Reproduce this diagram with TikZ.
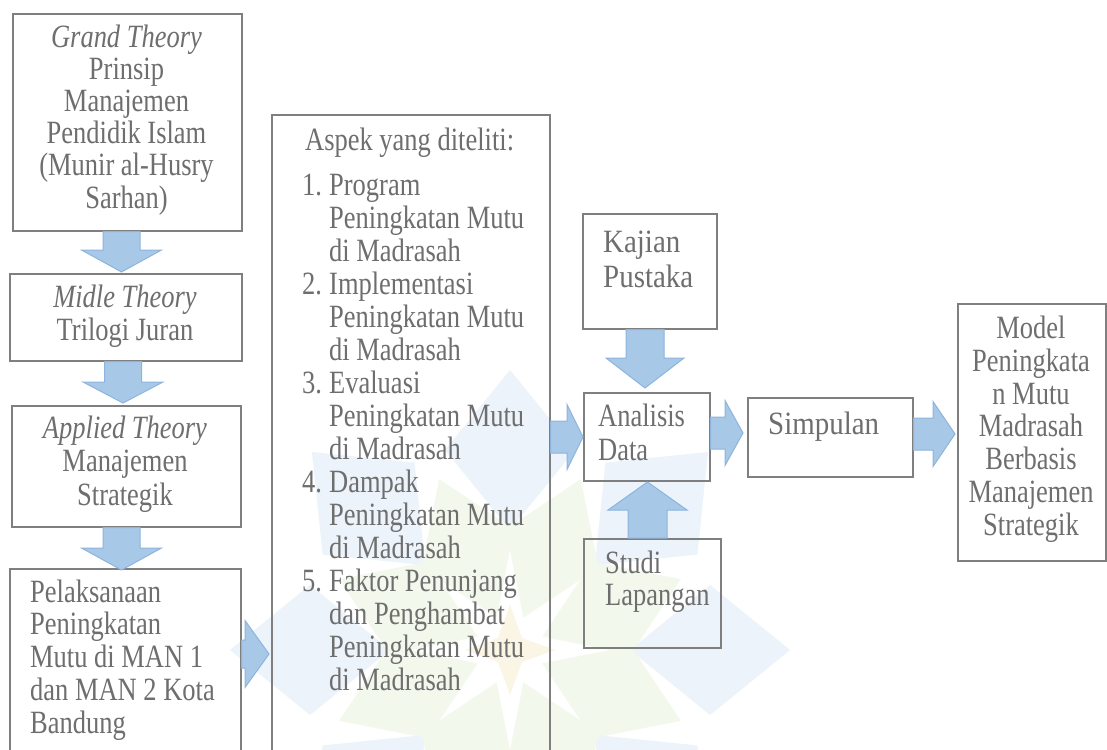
\documentclass[tikz,border=0pt]{standalone}
\usepackage{fontspec}
\setmainfont{Liberation Serif}[FakeStretch=0.815]
\newfontfamily\widerfont{Liberation Serif}[FakeStretch=0.89]
\usetikzlibrary{calc}
\definecolor{boxline}{HTML}{7F7F7F}
\definecolor{txtc}{HTML}{6E6E6E}
\definecolor{arrfill}{HTML}{A8C8E8}
\definecolor{arrline}{HTML}{8EB4DC}
\definecolor{wmblue}{HTML}{ECF3FA}
\definecolor{wmgreen}{HTML}{F3F8ED}
\definecolor{wmyellow}{HTML}{FBF5E6}
\newcommand\arrDown[5]{\draw[blk] let \p1=(#1), \p2=(#2) in
  (\x2-#3,\y1) -- (\x2+#3,\y1) -- (\x2+#3,\y2+#5) -- (\x2+#4,\y2+#5) -- (\x2,\y2)
  -- (\x2-#4,\y2+#5) -- (\x2-#3,\y2+#5) -- cycle;}
\newcommand\arrUp[5]{\draw[blk] let \p1=(#1), \p2=(#2) in
  (\x2-#3,\y1) -- (\x2+#3,\y1) -- (\x2+#3,\y2-#5) -- (\x2+#4,\y2-#5) -- (\x2,\y2)
  -- (\x2-#4,\y2-#5) -- (\x2-#3,\y2-#5) -- cycle;}
\newcommand\arrRight[5]{\draw[blk] let \p1=(#1), \p2=(#2) in
  (\x1,\y2+#3) -- (\x2-#5,\y2+#3) -- (\x2-#5,\y2+#4) -- (\x2,\y2)
  -- (\x2-#5,\y2-#4) -- (\x2-#5,\y2-#3) -- (\x1,\y2-#3) -- cycle;}
\begin{document}
\begin{tikzpicture}[x=1pt,y=-1pt,
  box/.style={draw=boxline, line width=1.6pt, anchor=north west, inner sep=0pt},
  lbl/.style={text=txtc, font=\fontsize{32.5}{33}\selectfont, inner sep=0pt},
  lblbig/.style={text=txtc, font=\widerfont\fontsize{32.5}{35}\selectfont, inner sep=0pt},
  blk/.style={fill=arrfill, draw=arrline, line width=1pt, line join=miter}]
\fill[white] (0,0) rectangle (1107,749);
\useasboundingbox (0,0) rectangle (1107,749);
\clip (0,0) rectangle (1107,749);

% faint watermark in the background
\begin{scope}[shift={(510,650)}]
  \foreach \a in {0,45,...,315}
    \fill[wmblue, rotate=\a] (0,120) -- (65,200) -- (0,280) -- (-65,200) -- cycle;
  \foreach \a in {22.5,67.5,...,337.5}
    \fill[wmgreen, rotate=\a] (0,35) -- (50,110) -- (0,185) -- (-50,110) -- cycle;
  \fill[wmyellow] (0,-45) -- (12,-12) -- (45,0) -- (12,12) -- (0,45) -- (-12,12) -- (-45,0) -- (-12,-12) -- cycle;
\end{scope}

% boxes
\node[box, minimum width=229pt, minimum height=217pt] (b1) at (12,13) {};
\node[box, minimum width=232pt, minimum height=87pt] (b2) at (9,273) {};
\node[box, minimum width=229pt, minimum height=121pt] (b3) at (11,405) {};
\node[box, minimum width=231pt, minimum height=200pt] (b4) at (9,568) {};
\node[box, minimum width=278pt, minimum height=660pt] (b5) at (271,114) {};
\node[box, minimum width=134pt, minimum height=115pt] (kaj) at (582,213) {};
\node[box, minimum width=126pt, minimum height=88pt] (ana) at (583,392) {};
\node[box, minimum width=165pt, minimum height=79pt] (sim) at (747,397) {};
\node[box, minimum width=148pt, minimum height=257pt] (mod) at (957,303) {};
\node[box, minimum width=137pt, minimum height=109pt] (stu) at (583,538) {};

% tips of the block arrows
\coordinate (t1) at (121.5,272);
\coordinate (t2) at (123,403);
\coordinate (t3) at (121.5,570);
\coordinate (t4) at (269,654);
\coordinate (t5) at (583,437);
\coordinate (t6) at (645,388);
\coordinate (t7) at (743,433);
\coordinate (t8) at (955,434);
\coordinate (t9) at (647.5,482);

\arrDown{b1.south}{t1}{18.5pt}{40pt}{22pt}
\arrDown{b2.south}{t2}{18.5pt}{40pt}{21pt}
\arrDown{b3.south}{t3}{18.5pt}{40pt}{22pt}
\arrRight{b4.east}{t4}{14pt}{33.5pt}{24pt}
\arrRight{b5.east}{t5}{16pt}{32.5pt}{16pt}
\arrDown{kaj.south}{t6}{19pt}{39pt}{30pt}
\arrRight{ana.east}{t7}{16pt}{32.5pt}{18pt}
\arrRight{sim.east}{t8}{16pt}{32.5pt}{22pt}
\arrUp{stu.north}{t9}{19.5pt}{39.5pt}{28pt}

% texts (anchored at the baseline of their last line)
\node[lbl, align=center, anchor=base, font=\fontsize{32.5}{32.2}\selectfont] (l1) at (126.5,208)
  {\textit{Grand Theory}\\Prinsip\\Manajemen\\Pendidik Islam\\(Munir al-Husry\\Sarhan)};
\node[lbl, align=center, anchor=base, font=\fontsize{32.5}{33}\selectfont] (l2) at (125,340) {\textit{Midle Theory}\\Trilogi Juran};
\node[lbl, align=center, anchor=base, font=\fontsize{32.5}{33.5}\selectfont] (l3) at (125,505)
  {\textit{Applied Theory}\\Manajemen\\Strategik};
\node[lbl, align=left, anchor=base west, font=\fontsize{32.5}{32.75}\selectfont] (l4) at (30,733)
  {Pelaksanaan\\Peningkatan\\Mutu di MAN 1\\dan MAN 2 Kota\\Bandung};
\node[lbl, align=left, anchor=base west, font=\fontsize{32.5}{33}\selectfont] (l5) at (302,690)
  {\hspace*{3pt}Aspek yang diteliti:\\[12pt]
   \makebox[27pt][l]{1.}Program\\
   \hspace*{27pt}Peningkatan Mutu\\
   \hspace*{27pt}di Madrasah\\
   \makebox[27pt][l]{2.}Implementasi\\
   \hspace*{27pt}Peningkatan Mutu\\
   \hspace*{27pt}di Madrasah\\
   \makebox[27pt][l]{3.}Evaluasi\\
   \hspace*{27pt}Peningkatan Mutu\\
   \hspace*{27pt}di Madrasah\\
   \makebox[27pt][l]{4.}Dampak\\
   \hspace*{27pt}Peningkatan Mutu\\
   \hspace*{27pt}di Madrasah\\
   \makebox[27pt][l]{5.}Faktor Penunjang\\
   \hspace*{27pt}dan Penghambat\\
   \hspace*{27pt}Peningkatan Mutu\\
   \hspace*{27pt}di Madrasah};
\node[lblbig, align=left, anchor=base west] (l6) at (603,287) {Kajian\\Pustaka};
\node[lbl, align=left, anchor=base west, font=\fontsize{32.5}{34}\selectfont] (l7) at (598,460) {Analisis\\Data};
\node[lblbig, anchor=base west] (l8) at (768,434) {Simpulan};
\node[lbl, align=left, anchor=base west, font=\fontsize{32.5}{32}\selectfont] (l9) at (605,605) {Studi\\Lapangan};
\node[lbl, align=center, anchor=base, font=\fontsize{32.5}{32.7}\selectfont] (l10) at (1031,535)
  {Model\\Peningkata\\n Mutu\\Madrasah\\Berbasis\\Manajemen\\Strategik};
\end{tikzpicture}
\end{document}
